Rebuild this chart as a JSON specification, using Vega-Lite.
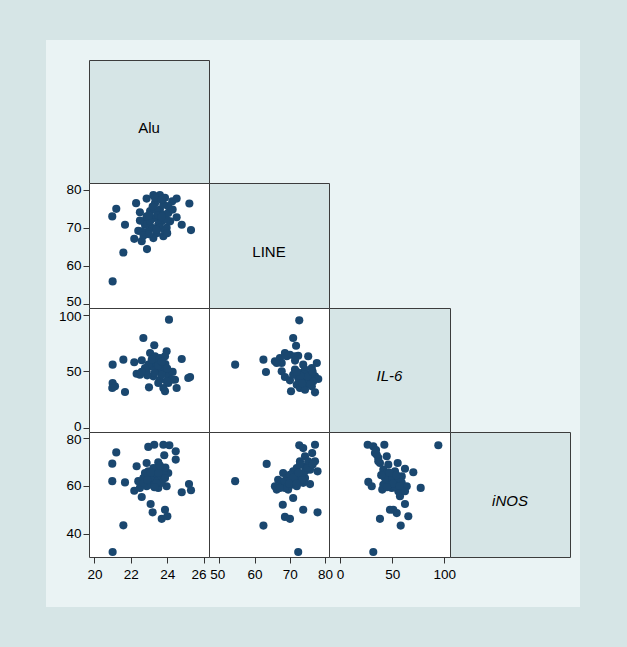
{
"$schema": "https://vega.github.io/schema/vega-lite/v6.json",
"background": "#eaf3f4",
"padding": 0,
"config": {
  "font": "Liberation Sans",
  "view": {"stroke": null},
  "axis": {"labelFont": "Liberation Sans", "labelFontSize": 13.5, "labelColor": "#000000", "tickColor": "#333333", "tickSize": 6, "labelPadding": 2, "grid": false, "domain": false, "labelFlush": false, "labelOverlap": false, "labelBound": false}
},
"datasets": {
  "A": [
    {"x":21.0,"y":55.9},{"x":21.59,"y":63.5},{"x":22.89,"y":64.4},{"x":22.19,"y":67.1},{"x":22.6,"y":66.5},{"x":21.68,"y":70.8},{"x":20.98,"y":73.0},{"x":21.2,"y":75.0},{"x":22.29,"y":76.5},{"x":22.5,"y":74.1},{"x":22.87,"y":77.7},{"x":23.24,"y":78.6},{"x":23.6,"y":78.6},{"x":23.88,"y":77.9},{"x":24.28,"y":77.0},{"x":24.52,"y":77.7},{"x":25.22,"y":76.4},{"x":24.52,"y":72.8},{"x":24.8,"y":70.8},{"x":25.31,"y":69.4},{"x":22.41,"y":69.2},{"x":22.69,"y":71.7},{"x":23.06,"y":74.4},{"x":23.33,"y":72.6},{"x":23.6,"y":74.8},{"x":23.88,"y":73.5},{"x":23.15,"y":70.0},{"x":23.42,"y":68.6},{"x":23.79,"y":67.8},{"x":23.97,"y":70.0},{"x":23.7,"y":71.7},{"x":24.06,"y":75.7},{"x":23.33,"y":76.5},{"x":22.96,"y":69.1},{"x":22.78,"y":70.8},{"x":24.16,"y":71.7},{"x":23.24,"y":67.3},{"x":23.51,"y":70.8},{"x":23.15,"y":72.6},{"x":23.79,"y":76.1},{"x":23.42,"y":74.4},{"x":23.97,"y":72.1},{"x":23.06,"y":71.7},{"x":23.6,"y":70.0},{"x":22.87,"y":73.0},{"x":23.88,"y":69.1},{"x":24.06,"y":73.9},{"x":22.6,"y":69.1},{"x":23.33,"y":77.9},{"x":23.7,"y":77.4},
    {"x":23.0,"y":73.2},{"x":23.5,"y":73.3},{"x":23.2,"y":75.6},{"x":23.7,"y":73.0},{"x":23.4,"y":69.5},{"x":22.7,"y":68.0},{"x":24.3,"y":74.8},{"x":23.0,"y":68.3},{"x":24.0,"y":68.6},{"x":22.5,"y":71.9}
  ],
  "B": [
    {"x":24.1,"y":95.6},{"x":22.69,"y":79.4},{"x":23.29,"y":73.0},{"x":23.97,"y":67.7},{"x":24.8,"y":60.9},{"x":21.0,"y":55.9},{"x":21.59,"y":60.3},{"x":22.19,"y":58.0},{"x":22.6,"y":59.8},{"x":23.06,"y":66.2},{"x":23.33,"y":63.3},{"x":23.6,"y":61.8},{"x":23.88,"y":63.3},{"x":22.32,"y":47.9},{"x":22.5,"y":47.0},{"x":22.87,"y":50.0},{"x":23.15,"y":54.5},{"x":23.42,"y":51.5},{"x":23.7,"y":53.0},{"x":23.88,"y":48.6},{"x":24.06,"y":45.6},{"x":24.43,"y":42.6},{"x":24.52,"y":35.3},{"x":25.26,"y":45.0},{"x":25.16,"y":44.1},{"x":21.0,"y":39.7},{"x":21.13,"y":36.8},{"x":20.98,"y":35.3},{"x":21.68,"y":31.8},{"x":23.0,"y":35.9},{"x":23.79,"y":35.3},{"x":23.88,"y":32.4},{"x":24.06,"y":39.7},{"x":23.6,"y":42.6},{"x":23.24,"y":45.6},{"x":22.96,"y":55.9},{"x":23.42,"y":57.4},{"x":23.7,"y":47.0},{"x":23.15,"y":60.3},{"x":22.78,"y":53.0},{"x":24.25,"y":42.6},{"x":23.97,"y":41.2},{"x":23.51,"y":39.7},
    {"x":23.5,"y":55.0},{"x":23.9,"y":56.5},{"x":23.3,"y":48.5},{"x":22.9,"y":46.5},{"x":24.3,"y":49.5},{"x":23.7,"y":58.5},{"x":24.0,"y":52.5},{"x":22.6,"y":49.5}
  ],
  "C": [
    {"x":72.70,"y":95.0},{"x":70.97,"y":79.4},{"x":71.79,"y":72.6},{"x":54.50,"y":55.9},{"x":62.53,"y":60.3},{"x":63.25,"y":49.4},{"x":65.79,"y":58.9},{"x":67.21,"y":61.8},{"x":68.63,"y":66.2},{"x":70.06,"y":64.7},{"x":71.48,"y":63.3},{"x":72.40,"y":63.8},{"x":75.24,"y":63.3},{"x":77.68,"y":57.4},{"x":73.82,"y":55.9},{"x":67.72,"y":50.0},{"x":68.63,"y":45.0},{"x":70.06,"y":42.1},{"x":71.48,"y":51.5},{"x":72.90,"y":48.6},{"x":74.33,"y":51.5},{"x":76.26,"y":53.0},{"x":77.17,"y":45.6},{"x":78.09,"y":43.3},{"x":75.24,"y":42.6},{"x":73.41,"y":41.2},{"x":71.99,"y":38.2},{"x":70.36,"y":32.4},{"x":72.90,"y":35.3},{"x":74.33,"y":38.2},{"x":76.26,"y":36.8},{"x":77.17,"y":31.5},{"x":75.75,"y":47.0},{"x":73.82,"y":44.1},{"x":72.40,"y":44.1},{"x":70.97,"y":47.0},{"x":69.14,"y":63.3},{"x":67.72,"y":57.4},{"x":74.33,"y":33.8},{"x":75.24,"y":39.7},{"x":76.67,"y":41.2},{"x":66.30,"y":57.4},
    {"x":74.0,"y":47.5},{"x":75.0,"y":45.5},{"x":76.5,"y":49.5},{"x":73.0,"y":46.0},{"x":72.0,"y":49.5},{"x":75.9,"y":38.5},{"x":73.5,"y":39.5},{"x":71.5,"y":59.5}
  ],
  "D": [
    {"x":21.0,"y":32.5},{"x":21.59,"y":43.6},{"x":21.2,"y":74.0},{"x":20.98,"y":69.3},{"x":20.98,"y":62.0},{"x":21.68,"y":61.5},{"x":22.96,"y":76.3},{"x":23.29,"y":77.2},{"x":23.79,"y":77.2},{"x":24.12,"y":77.0},{"x":24.47,"y":74.5},{"x":24.47,"y":71.0},{"x":23.84,"y":72.8},{"x":22.32,"y":68.2},{"x":22.87,"y":69.6},{"x":23.51,"y":69.9},{"x":24.06,"y":65.4},{"x":22.19,"y":58.0},{"x":22.6,"y":55.4},{"x":23.09,"y":52.5},{"x":23.2,"y":49.0},{"x":23.7,"y":46.3},{"x":23.88,"y":50.1},{"x":24.01,"y":47.4},{"x":24.8,"y":57.4},{"x":25.2,"y":60.8},{"x":25.31,"y":58.2},{"x":22.41,"y":62.0},{"x":22.69,"y":63.3},{"x":22.96,"y":66.1},{"x":23.24,"y":64.7},{"x":23.42,"y":67.5},{"x":23.6,"y":63.3},{"x":23.79,"y":66.1},{"x":23.97,"y":59.9},{"x":23.51,"y":59.2},{"x":23.15,"y":60.5},{"x":22.87,"y":59.9},{"x":22.5,"y":59.2},{"x":23.33,"y":62.0},{"x":23.7,"y":61.3},{"x":23.06,"y":63.3},{"x":22.78,"y":65.4},{"x":23.88,"y":63.3},{"x":23.24,"y":67.5},{"x":22.69,"y":61.3},{"x":23.51,"y":65.4},
    {"x":23.1,"y":65.5},{"x":23.4,"y":61.2},{"x":23.9,"y":67.7},{"x":22.9,"y":62.5},{"x":23.6,"y":68.5},{"x":23.3,"y":59.5}
  ],
  "E": [
    {"x":72.40,"y":32.5},{"x":54.50,"y":62.0},{"x":63.45,"y":69.2},{"x":62.53,"y":43.5},{"x":68.63,"y":47.1},{"x":70.06,"y":46.3},{"x":68.02,"y":52.2},{"x":73.82,"y":50.1},{"x":77.89,"y":49.0},{"x":72.70,"y":77.0},{"x":73.82,"y":75.8},{"x":77.17,"y":77.2},{"x":76.36,"y":73.7},{"x":77.17,"y":70.3},{"x":74.33,"y":72.4},{"x":72.90,"y":70.3},{"x":71.99,"y":67.5},{"x":70.97,"y":66.1},{"x":74.33,"y":68.2},{"x":75.75,"y":66.8},{"x":77.89,"y":66.1},{"x":68.13,"y":65.4},{"x":66.70,"y":62.6},{"x":65.79,"y":59.9},{"x":66.30,"y":58.5},{"x":67.72,"y":61.3},{"x":69.14,"y":63.3},{"x":70.06,"y":64.7},{"x":70.57,"y":60.5},{"x":69.55,"y":58.5},{"x":70.97,"y":55.0},{"x":68.63,"y":59.2},{"x":72.40,"y":62.0},{"x":74.33,"y":63.3},{"x":75.75,"y":60.8},{"x":73.41,"y":64.7},{"x":71.99,"y":59.9},{"x":67.21,"y":59.2},{"x":74.33,"y":66.1},{"x":72.90,"y":68.9},{"x":75.24,"y":70.3},{"x":70.06,"y":62.0},{"x":71.48,"y":63.3},{"x":73.82,"y":61.3},{"x":68.63,"y":62.0},
    {"x":71.0,"y":63.5},{"x":72.5,"y":65.5},{"x":75.0,"y":67.5},{"x":73.5,"y":62.5},{"x":69.8,"y":61.0},{"x":76.5,"y":69.0},{"x":72.0,"y":61.0}
  ],
  "F": [
    {"x":31.9,"y":32.5},{"x":94.3,"y":77.0},{"x":26.5,"y":77.2},{"x":31.9,"y":76.5},{"x":42.5,"y":77.2},{"x":33.5,"y":73.7},{"x":36.7,"y":71.7},{"x":44.8,"y":72.4},{"x":38.3,"y":69.6},{"x":46.3,"y":68.9},{"x":55.3,"y":69.6},{"x":62.3,"y":67.2},{"x":70.3,"y":65.7},{"x":41.5,"y":66.8},{"x":44.8,"y":65.4},{"x":52.7,"y":66.1},{"x":59.2,"y":64.0},{"x":27.1,"y":61.7},{"x":30.4,"y":59.9},{"x":41.5,"y":60.5},{"x":46.3,"y":62.0},{"x":52.7,"y":62.0},{"x":59.2,"y":61.3},{"x":64.0,"y":59.9},{"x":77.4,"y":59.2},{"x":40.5,"y":58.5},{"x":49.6,"y":59.2},{"x":55.9,"y":57.8},{"x":57.5,"y":55.7},{"x":62.3,"y":52.5},{"x":47.9,"y":50.1},{"x":54.4,"y":48.7},{"x":65.5,"y":47.4},{"x":38.3,"y":46.3},{"x":58.2,"y":43.5},{"x":36.7,"y":70.3},{"x":49.6,"y":63.3},{"x":55.9,"y":63.3},{"x":43.1,"y":63.3},{"x":62.3,"y":57.8},{"x":51.1,"y":50.1},{"x":35.2,"y":73.0},{"x":52.7,"y":59.9},
    {"x":47.5,"y":65.5},{"x":54.0,"y":64.5},{"x":50.5,"y":61.0},{"x":39.5,"y":64.5},{"x":57.0,"y":60.0},{"x":45.0,"y":59.5},{"x":34.5,"y":75.0}
  ]
},
"columns": 8,
"spacing": 0,
"bounds": "flush",
"align": "each",
"concat": [
  {"width": 46, "height": 40, "data": {"values": []}, "mark": {"type": "point", "opacity": 0}, "view": {"fill": "#d6e5e6", "stroke": null}},
  {"width": 43, "height": 40, "data": {"values": []}, "mark": {"type": "point", "opacity": 0}, "view": {"fill": "#d6e5e6", "stroke": null}},
  {"width": 120, "height": 40, "data": {"values": []}, "mark": {"type": "point", "opacity": 0}, "view": {"fill": "#d6e5e6", "stroke": null}},
  {"width": 120, "height": 40, "data": {"values": []}, "mark": {"type": "point", "opacity": 0}, "view": {"fill": "#d6e5e6", "stroke": null}},
  {"width": 121, "height": 40, "data": {"values": []}, "mark": {"type": "point", "opacity": 0}, "view": {"fill": "#d6e5e6", "stroke": null}},
  {"width": 120, "height": 40, "data": {"values": []}, "mark": {"type": "point", "opacity": 0}, "view": {"fill": "#d6e5e6", "stroke": null}},
  {"width": 10, "height": 40, "data": {"values": []}, "mark": {"type": "point", "opacity": 0}, "view": {"fill": "#d6e5e6", "stroke": null}},
  {"width": 47, "height": 40, "data": {"values": []}, "mark": {"type": "point", "opacity": 0}, "view": {"fill": "#d6e5e6", "stroke": null}},

  {"width": 46, "height": 20, "data": {"values": []}, "mark": {"type": "point", "opacity": 0}, "view": {"fill": "#d6e5e6", "stroke": null}},
  {"width": 43, "height": 20, "data": {"values": []}, "mark": {"type": "point", "opacity": 0}, "view": {"stroke": null}},
  {"width": 120, "height": 20, "data": {"values": []}, "mark": {"type": "point", "opacity": 0}, "view": {"stroke": null}},
  {"width": 120, "height": 20, "data": {"values": []}, "mark": {"type": "point", "opacity": 0}, "view": {"stroke": null}},
  {"width": 121, "height": 20, "data": {"values": []}, "mark": {"type": "point", "opacity": 0}, "view": {"stroke": null}},
  {"width": 120, "height": 20, "data": {"values": []}, "mark": {"type": "point", "opacity": 0}, "view": {"stroke": null}},
  {"width": 10, "height": 20, "data": {"values": []}, "mark": {"type": "point", "opacity": 0}, "view": {"stroke": null}},
  {"width": 47, "height": 20, "data": {"values": []}, "mark": {"type": "point", "opacity": 0}, "view": {"fill": "#d6e5e6", "stroke": null}},

  {"width": 46, "height": 123, "data": {"values": []}, "mark": {"type": "point", "opacity": 0}, "view": {"fill": "#d6e5e6", "stroke": null}},
  {"width": 43, "height": 123, "data": {"values": []}, "mark": {"type": "point", "opacity": 0}, "view": {"stroke": null}},
  {"width": 120, "height": 123, "data": {"values": [{"t": "Alu"}]}, "mark": {"type": "text", "font": "Liberation Sans", "fontSize": 15, "dy": 6, "baseline": "middle", "align": "center", "color": "#000000"}, "encoding": {"text": {"field": "t"}}, "view": {"fill": "#d6e5e6", "stroke": "#3c3c3c"}},
  {"width": 120, "height": 123, "data": {"values": []}, "mark": {"type": "point", "opacity": 0}, "view": {"stroke": null}},
  {"width": 121, "height": 123, "data": {"values": []}, "mark": {"type": "point", "opacity": 0}, "view": {"stroke": null}},
  {"width": 120, "height": 123, "data": {"values": []}, "mark": {"type": "point", "opacity": 0}, "view": {"stroke": null}},
  {"width": 10, "height": 123, "data": {"values": []}, "mark": {"type": "point", "opacity": 0}, "view": {"stroke": null}},
  {"width": 47, "height": 123, "data": {"values": []}, "mark": {"type": "point", "opacity": 0}, "view": {"fill": "#d6e5e6", "stroke": null}},

  {"width": 46, "height": 125, "data": {"values": []}, "mark": {"type": "point", "opacity": 0}, "view": {"fill": "#d6e5e6", "stroke": null}},
  {"width": 43, "height": 125, "data": {"values": []}, "mark": {"type": "point", "opacity": 0},
   "encoding": {"y": {"field": "v", "type": "quantitative", "scale": {"domain": [48.9, 81.8], "nice": false, "zero": false}, "axis": {"values": [50, 60, 70, 80], "orient": "left", "offset": -43, "title": null, "labelOffset": {"condition": {"test": "datum.value == 50", "value": -2}, "value": 0}}}},
   "view": {"stroke": null}},
  {"width": 120, "height": 125, "data": {"name": "A"}, "mark": {"type": "circle", "size": 66, "color": "#1a476f", "opacity": 1},
   "encoding": {"x": {"field": "x", "type": "quantitative", "scale": {"domain": [19.7, 26.3], "nice": false, "zero": false}, "axis": null},
                "y": {"field": "y", "type": "quantitative", "scale": {"domain": [48.9, 81.8], "nice": false, "zero": false}, "axis": null}},
   "view": {"fill": "#ffffff", "stroke": "#3c3c3c"}},
  {"width": 120, "height": 125, "data": {"values": [{"t": "LINE"}]}, "mark": {"type": "text", "font": "Liberation Sans", "fontSize": 15, "dy": 6, "baseline": "middle", "align": "center", "color": "#000000"}, "encoding": {"text": {"field": "t"}}, "view": {"fill": "#d6e5e6", "stroke": "#3c3c3c"}},
  {"width": 121, "height": 125, "data": {"values": []}, "mark": {"type": "point", "opacity": 0}, "view": {"stroke": null}},
  {"width": 120, "height": 125, "data": {"values": []}, "mark": {"type": "point", "opacity": 0}, "view": {"stroke": null}},
  {"width": 10, "height": 125, "data": {"values": []}, "mark": {"type": "point", "opacity": 0}, "view": {"stroke": null}},
  {"width": 47, "height": 125, "data": {"values": []}, "mark": {"type": "point", "opacity": 0}, "view": {"fill": "#d6e5e6", "stroke": null}},

  {"width": 46, "height": 124, "data": {"values": []}, "mark": {"type": "point", "opacity": 0}, "view": {"fill": "#d6e5e6", "stroke": null}},
  {"width": 43, "height": 124, "data": {"values": []}, "mark": {"type": "point", "opacity": 0},
   "encoding": {"y": {"field": "v", "type": "quantitative", "scale": {"domain": [-3.5, 105.9], "nice": false, "zero": false}, "axis": {"values": [0, 50, 100], "orient": "left", "offset": -43, "title": null, "labelOffset": {"condition": [{"test": "datum.value == 100", "value": 2}, {"test": "datum.value == 0", "value": -2}], "value": 0}}}},
   "view": {"stroke": null}},
  {"width": 120, "height": 124, "data": {"name": "B"}, "mark": {"type": "circle", "size": 66, "color": "#1a476f", "opacity": 1},
   "encoding": {"x": {"field": "x", "type": "quantitative", "scale": {"domain": [19.7, 26.3], "nice": false, "zero": false}, "axis": null},
                "y": {"field": "y", "type": "quantitative", "scale": {"domain": [-3.5, 105.9], "nice": false, "zero": false}, "axis": null}},
   "view": {"fill": "#ffffff", "stroke": "#3c3c3c"}},
  {"width": 120, "height": 124, "data": {"name": "C"}, "mark": {"type": "circle", "size": 66, "color": "#1a476f", "opacity": 1},
   "encoding": {"x": {"field": "x", "type": "quantitative", "scale": {"domain": [47.08, 81.14], "nice": false, "zero": false}, "axis": null},
                "y": {"field": "y", "type": "quantitative", "scale": {"domain": [-3.5, 105.9], "nice": false, "zero": false}, "axis": null}},
   "view": {"fill": "#ffffff", "stroke": "#3c3c3c"}},
  {"width": 121, "height": 124, "data": {"values": [{"t": "IL-6"}]}, "mark": {"type": "text", "font": "Liberation Sans", "fontSize": 15, "fontStyle": "italic", "dy": 6, "baseline": "middle", "align": "center", "color": "#000000"}, "encoding": {"text": {"field": "t"}}, "view": {"fill": "#d6e5e6", "stroke": "#3c3c3c"}},
  {"width": 120, "height": 124, "data": {"values": []}, "mark": {"type": "point", "opacity": 0}, "view": {"stroke": null}},
  {"width": 10, "height": 124, "data": {"values": []}, "mark": {"type": "point", "opacity": 0}, "view": {"stroke": null}},
  {"width": 47, "height": 124, "data": {"values": []}, "mark": {"type": "point", "opacity": 0}, "view": {"fill": "#d6e5e6", "stroke": null}},

  {"width": 46, "height": 125, "data": {"values": []}, "mark": {"type": "point", "opacity": 0}, "view": {"fill": "#d6e5e6", "stroke": null}},
  {"width": 43, "height": 125, "data": {"values": []}, "mark": {"type": "point", "opacity": 0},
   "encoding": {"y": {"field": "v", "type": "quantitative", "scale": {"domain": [30.4, 82.5], "nice": false, "zero": false}, "axis": {"values": [40, 60, 80], "orient": "left", "offset": -43, "title": null, "labelOffset": {"condition": {"test": "datum.value == 80", "value": 2}, "value": 0}}}},
   "view": {"stroke": null}},
  {"width": 120, "height": 125, "data": {"name": "D"}, "mark": {"type": "circle", "size": 66, "color": "#1a476f", "opacity": 1},
   "encoding": {"x": {"field": "x", "type": "quantitative", "scale": {"domain": [19.7, 26.3], "nice": false, "zero": false}, "axis": null},
                "y": {"field": "y", "type": "quantitative", "scale": {"domain": [30.4, 82.5], "nice": false, "zero": false}, "axis": null}},
   "view": {"fill": "#ffffff", "stroke": "#3c3c3c"}},
  {"width": 120, "height": 125, "data": {"name": "E"}, "mark": {"type": "circle", "size": 66, "color": "#1a476f", "opacity": 1},
   "encoding": {"x": {"field": "x", "type": "quantitative", "scale": {"domain": [47.08, 81.14], "nice": false, "zero": false}, "axis": null},
                "y": {"field": "y", "type": "quantitative", "scale": {"domain": [30.4, 82.5], "nice": false, "zero": false}, "axis": null}},
   "view": {"fill": "#ffffff", "stroke": "#3c3c3c"}},
  {"width": 121, "height": 125, "data": {"name": "F"}, "mark": {"type": "circle", "size": 66, "color": "#1a476f", "opacity": 1},
   "encoding": {"x": {"field": "x", "type": "quantitative", "scale": {"domain": [-10.6, 105.5], "nice": false, "zero": false}, "axis": null},
                "y": {"field": "y", "type": "quantitative", "scale": {"domain": [30.4, 82.5], "nice": false, "zero": false}, "axis": null}},
   "view": {"fill": "#ffffff", "stroke": "#3c3c3c"}},
  {"width": 120, "height": 125, "data": {"values": [{"t": "iNOS"}]}, "mark": {"type": "text", "font": "Liberation Sans", "fontSize": 15, "fontStyle": "italic", "dy": 6, "baseline": "middle", "align": "center", "color": "#000000"}, "encoding": {"text": {"field": "t"}}, "view": {"fill": "#d6e5e6", "stroke": "#3c3c3c"}},
  {"width": 10, "height": 125, "data": {"values": []}, "mark": {"type": "point", "opacity": 0}, "view": {"stroke": null}},
  {"width": 47, "height": 125, "data": {"values": []}, "mark": {"type": "point", "opacity": 0}, "view": {"fill": "#d6e5e6", "stroke": null}},

  {"width": 46, "height": 50, "data": {"values": []}, "mark": {"type": "point", "opacity": 0}, "view": {"fill": "#d6e5e6", "stroke": null}},
  {"width": 43, "height": 50, "data": {"values": []}, "mark": {"type": "point", "opacity": 0}, "view": {"stroke": null}},
  {"width": 120, "height": 50, "data": {"values": []}, "mark": {"type": "point", "opacity": 0},
   "encoding": {"x": {"field": "v", "type": "quantitative", "scale": {"domain": [19.7, 26.3], "nice": false, "zero": false}, "axis": {"values": [20, 22, 24, 26], "orient": "bottom", "offset": -50, "title": null, "labelPadding": 4, "labelOffset": {"condition": {"test": "datum.value == 26", "value": -5}, "value": 0}}}},
   "view": {"stroke": null}},
  {"width": 120, "height": 50, "data": {"values": []}, "mark": {"type": "point", "opacity": 0},
   "encoding": {"x": {"field": "v", "type": "quantitative", "scale": {"domain": [47.08, 81.14], "nice": false, "zero": false}, "axis": {"values": [50, 60, 70, 80], "orient": "bottom", "offset": -50, "title": null, "labelPadding": 4, "labelOffset": {"condition": {"test": "datum.value == 50", "value": -2}, "value": 0}}}},
   "view": {"stroke": null}},
  {"width": 121, "height": 50, "data": {"values": []}, "mark": {"type": "point", "opacity": 0},
   "encoding": {"x": {"field": "v", "type": "quantitative", "scale": {"domain": [-10.6, 105.5], "nice": false, "zero": false}, "axis": {"values": [0, 50, 100], "orient": "bottom", "offset": -50, "title": null, "labelPadding": 4}}},
   "view": {"stroke": null}},
  {"width": 120, "height": 50, "data": {"values": []}, "mark": {"type": "point", "opacity": 0}, "view": {"stroke": null}},
  {"width": 10, "height": 50, "data": {"values": []}, "mark": {"type": "point", "opacity": 0}, "view": {"stroke": null}},
  {"width": 47, "height": 50, "data": {"values": []}, "mark": {"type": "point", "opacity": 0}, "view": {"fill": "#d6e5e6", "stroke": null}},

  {"width": 46, "height": 40, "data": {"values": []}, "mark": {"type": "point", "opacity": 0}, "view": {"fill": "#d6e5e6", "stroke": null}},
  {"width": 43, "height": 40, "data": {"values": []}, "mark": {"type": "point", "opacity": 0}, "view": {"fill": "#d6e5e6", "stroke": null}},
  {"width": 120, "height": 40, "data": {"values": []}, "mark": {"type": "point", "opacity": 0}, "view": {"fill": "#d6e5e6", "stroke": null}},
  {"width": 120, "height": 40, "data": {"values": []}, "mark": {"type": "point", "opacity": 0}, "view": {"fill": "#d6e5e6", "stroke": null}},
  {"width": 121, "height": 40, "data": {"values": []}, "mark": {"type": "point", "opacity": 0}, "view": {"fill": "#d6e5e6", "stroke": null}},
  {"width": 120, "height": 40, "data": {"values": []}, "mark": {"type": "point", "opacity": 0}, "view": {"fill": "#d6e5e6", "stroke": null}},
  {"width": 10, "height": 40, "data": {"values": []}, "mark": {"type": "point", "opacity": 0}, "view": {"fill": "#d6e5e6", "stroke": null}},
  {"width": 47, "height": 40, "data": {"values": []}, "mark": {"type": "point", "opacity": 0}, "view": {"fill": "#d6e5e6", "stroke": null}}
]
}
